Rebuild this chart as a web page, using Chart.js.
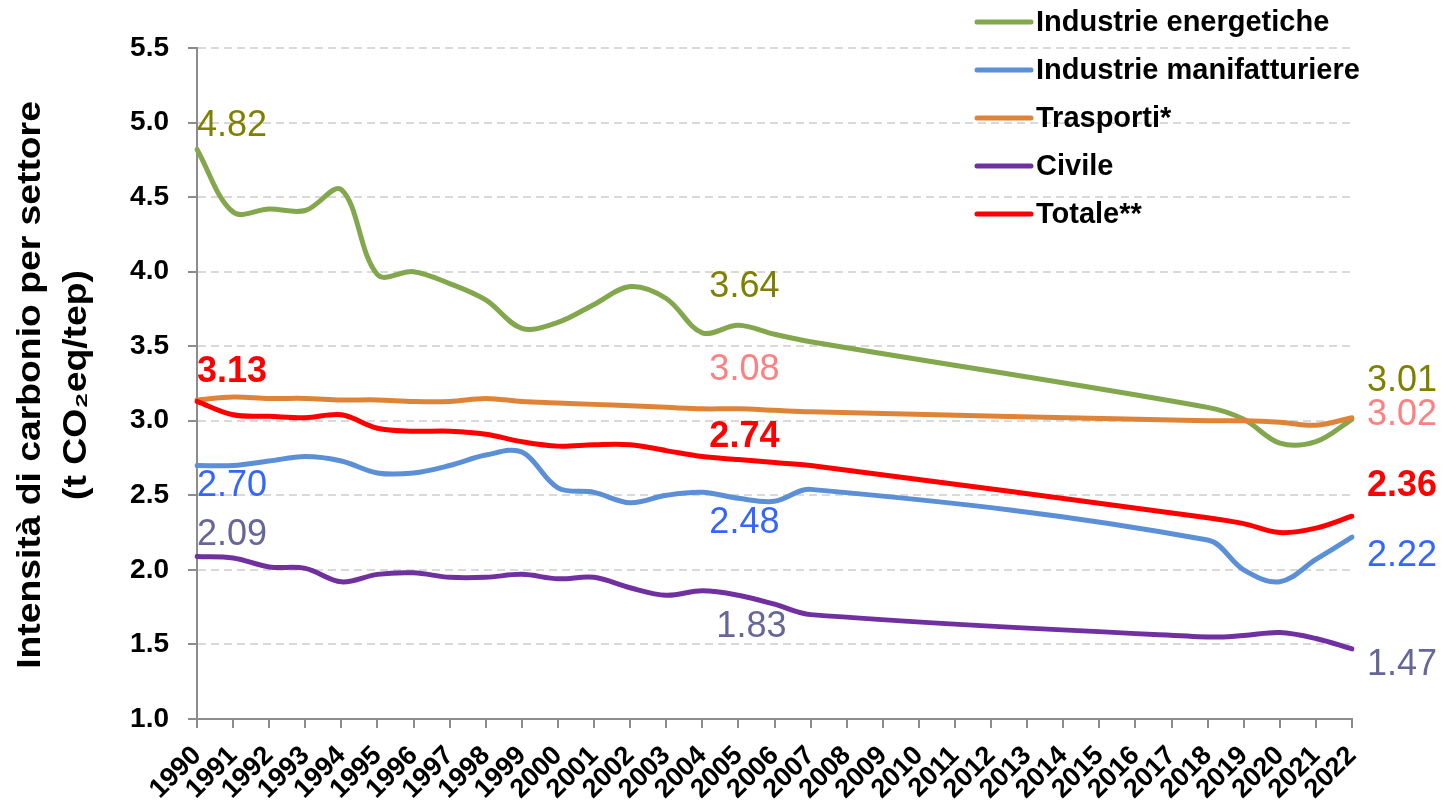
<!DOCTYPE html>
<html>
<head>
<meta charset="utf-8">
<script src="https://cdn.jsdelivr.net/npm/chart.js"></script>
<style>
  html, body { margin: 0; padding: 0; background: #fff; }
  #wrap { width: 1443px; height: 806px; position: relative; }
</style>
</head>
<body>
<div id="wrap"><canvas id="chart"></canvas></div>
<script>
// years 1990-2022; 2008-2017 have no values in the source chart
const years = ['1990','1991','1992','1993','1994','1995','1996','1997','1998','1999',
  '2000','2001','2002','2003','2004','2005','2006','2007','2008','2009','2010','2011',
  '2012','2013','2014','2015','2016','2017','2018','2019','2020','2021','2022'];

const gap = [null, null, null, null, null, null, null, null, null, null];

const energetiche = [4.82, 4.40, 4.42, 4.41, 4.55, 3.98, 4.00, 3.92, 3.81, 3.62,
  3.66, 3.78, 3.90, 3.82, 3.59, 3.64, 3.58, 3.53, ...gap, 3.09, 3.01, 2.85, 2.86, 3.01];
const manifatturiere = [2.70, 2.70, 2.73, 2.76, 2.73, 2.65, 2.65, 2.70, 2.77, 2.79,
  2.55, 2.52, 2.45, 2.50, 2.52, 2.48, 2.46, 2.54, ...gap, 2.20, 2.00, 1.92, 2.07, 2.22];
const trasporti = [3.14, 3.16, 3.15, 3.15, 3.14, 3.14, 3.13, 3.13, 3.15, 3.13,
  3.12, 3.11, 3.10, 3.09, 3.08, 3.08, 3.07, 3.06, ...gap, 3.00, 3.00, 2.99, 2.97, 3.02];
const civile = [2.09, 2.08, 2.02, 2.01, 1.92, 1.97, 1.98, 1.95, 1.95, 1.97,
  1.94, 1.95, 1.88, 1.83, 1.86, 1.83, 1.77, 1.70, ...gap, 1.55, 1.56, 1.58, 1.54, 1.47];
const totale = [3.13, 3.04, 3.03, 3.02, 3.04, 2.95, 2.93, 2.93, 2.91, 2.86,
  2.83, 2.84, 2.84, 2.80, 2.76, 2.74, 2.72, 2.70, ...gap, 2.35, 2.31, 2.25, 2.28, 2.36];

const seriesNames = ['Industrie energetiche', 'Industrie manifatturiere', 'Trasporti*', 'Civile', 'Totale**'];
const yTicks = [1.0, 1.5, 2.0, 2.5, 3.0, 3.5, 4.0, 4.5, 5.0, 5.5];
const yTitle = ['Intensità di carbonio per settore', '(t CO₂eq/tep)'];

const FONT = 'Arial, "Liberation Sans", sans-serif';

// value labels: which points get one, and where it sits relative to the point
const labelSpots = [
  { color: '#808000', bold: false, spots: [[0, 0, -23, 'left'], [15, 6, -38, 'center'], [32, 15, -38, 'left']] },
  { color: '#3366FF', bold: false, spots: [[0, 0, 21, 'left'], [15, 6, 25, 'center'], [32, 15, 19, 'left']] },
  { color: '#FF8080', bold: false, spots: [[15, 6, -39, 'center'], [32, 15, -3, 'left']] },
  { color: '#666699', bold: false, spots: [[0, 0, -21, 'left'], [15, 13, 32, 'center'], [32, 15, 16, 'left']] },
  { color: '#FF0000', bold: true, spots: [[0, 0, -29, 'left'], [15, 6, -22, 'center'], [32, 15, -30, 'left']] },
];

const valueLabels = {
  id: 'valueLabels',
  afterDatasetsDraw(chart) {
    const { ctx } = chart;
    const xs = chart.scales.x, ys = chart.scales.y;
    ctx.save();
    ctx.textBaseline = 'middle';
    labelSpots.forEach((cfg, di) => {
      const data = chart.data.datasets[di].data;
      ctx.fillStyle = cfg.color;
      ctx.font = (cfg.bold ? 'bold ' : '') + '36px ' + FONT;
      cfg.spots.forEach(([i, dx, dy, align]) => {
        const v = data[i];
        ctx.textAlign = align;
        ctx.fillText(v.toFixed(2), xs.getPixelForValue(i) + dx, ys.getPixelForValue(v) + dy);
      });
    });
    ctx.restore();
  }
};

const sideLegend = {
  id: 'sideLegend',
  afterDraw(chart) {
    const { ctx } = chart;
    ctx.save();
    ctx.font = 'bold 29px ' + FONT;
    ctx.textBaseline = 'middle';
    ctx.textAlign = 'left';
    chart.data.datasets.forEach((ds, i) => {
      const y = 22 + i * 48;
      ctx.strokeStyle = ds.borderColor;
      ctx.lineWidth = 5;
      ctx.lineCap = 'round';
      ctx.beginPath();
      ctx.moveTo(977, y);
      ctx.lineTo(1031, y);
      ctx.stroke();
      ctx.fillStyle = '#000';
      ctx.fillText(ds.label, 1036, y + 1);
    });
    ctx.restore();
  }
};

// y-axis title, drawn slightly stretched along its length like the original
const axisTitle = {
  id: 'axisTitle',
  afterDraw(chart) {
    const { ctx } = chart;
    ctx.save();
    ctx.fillStyle = '#000';
    ctx.font = 'bold 33px ' + FONT;
    ctx.textAlign = 'center';
    ctx.textBaseline = 'middle';
    ctx.translate(0, 385);
    ctx.rotate(-Math.PI / 2);
    ctx.scale(1.13, 1);
    ctx.fillText(yTitle[0], 0, 31);
    ctx.fillText(yTitle[1], 0, 77);
    ctx.restore();
  }
};

function line(label, data, color, order) {
  return {
    label, data, order,
    borderColor: color,
    backgroundColor: color,
    borderWidth: 5,
    borderCapStyle: 'round',
    pointRadius: 0,
    tension: 0.35,
    spanGaps: true,
    fill: false
  };
}

new Chart(document.getElementById('chart'), {
  type: 'line',
  data: {
    labels: years,
    datasets: [
      line(seriesNames[0], energetiche, '#82A74D', 5),
      line(seriesNames[1], manifatturiere, '#5B8FD6', 4),
      line(seriesNames[2], trasporti, '#DE8438', 3),
      line(seriesNames[3], civile, '#7030A0', 2),
      line(seriesNames[4], totale, '#FF0000', 1),
    ]
  },
  options: {
    responsive: true,
    maintainAspectRatio: false,
    animation: false,
    layout: { padding: { top: 48, right: 91, left: 0, bottom: 0 } },
    plugins: {
      legend: { display: false },
      tooltip: { enabled: false }
    },
    scales: {
      x: {
        offset: false,
        afterFit: (s) => { s.height = 87; },
        grid: { drawOnChartArea: false, drawTicks: true, tickLength: 9, tickColor: '#8C8C8C', lineWidth: 2 },
        border: { color: '#8C8C8C', width: 2 },
        ticks: {
          autoSkip: false, maxRotation: 45, minRotation: 45, padding: 12,
          color: '#000', font: { family: FONT, size: 27, weight: 'bold' }
        }
      },
      y: {
        min: 1, max: 5.5,
        afterFit: (s) => { s.width = 197; },
        afterBuildTicks: (s) => { s.ticks = yTicks.map(v => ({ value: v })); },
        grid: { color: '#D9D9D9', lineWidth: 2, tickColor: '#8C8C8C', tickLength: 9 },
        border: { color: '#8C8C8C', width: 2, dash: [8, 5] },
        ticks: {
          padding: 19,
          color: '#000',
          font: { family: FONT, size: 28, weight: 'bold' },
          callback: (v) => Number(v).toFixed(1)
        }
      }
    }
  },
  plugins: [valueLabels, sideLegend, axisTitle]
});
</script>
</body>
</html>
